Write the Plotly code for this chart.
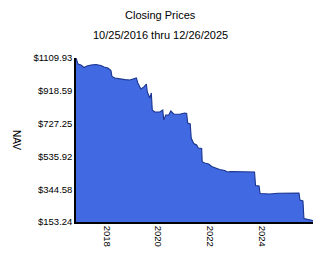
import plotly.graph_objects as go

dates = [
    "2016-10-25", "2016-11-08", "2016-11-22", "2017-01-03", "2017-02-15", "2017-03-29",
    "2017-05-24", "2017-08-03", "2017-10-12", "2017-11-24", "2018-01-19", "2018-03-03",
    "2018-03-17", "2018-04-28", "2018-07-07", "2018-09-16", "2018-11-25", "2019-01-21",
    "2019-02-25", "2019-03-18", "2019-04-30", "2019-06-11", "2019-07-16", "2019-07-30",
    "2019-09-03", "2019-09-24", "2019-10-08", "2019-11-12", "2020-01-22", "2020-03-04",
    "2020-03-18", "2020-04-15", "2020-05-28", "2020-06-25", "2020-08-06", "2020-10-30",
    "2021-01-08", "2021-02-05", "2021-02-19", "2021-03-27", "2021-04-10", "2021-05-15",
    "2021-06-26", "2021-07-18", "2021-09-05", "2021-09-12", "2021-10-17", "2021-12-13",
    "2022-01-24", "2022-03-21", "2022-05-17", "2022-07-26", "2022-09-07", "2022-10-19",
    "2023-02-23", "2023-07-14", "2023-09-22", "2023-10-06", "2023-11-25", "2023-12-09",
    "2024-04-21", "2024-08-12", "2025-01-28", "2025-06-11", "2025-06-25", "2025-08-06",
    "2025-08-20", "2025-11-06", "2025-12-26",
]
nav = [
    1109.93, 1086.6, 1074.9, 1069.0, 1054.5, 1063.0,
    1069.0, 1072.0, 1066.0, 1057.0, 1051.6, 1037.0,
    1002.0, 993.0, 987.0, 984.0, 981.6, 987.0,
    993.0, 964.0, 929.4, 941.0, 958.3, 911.6,
    876.6, 905.8, 806.6, 794.9, 794.9, 806.6,
    748.0, 777.4, 777.4, 800.7, 783.3, 781.5,
    789.0, 786.0, 730.7, 725.0, 643.3, 611.2,
    602.4, 585.0, 582.0, 505.0, 497.4, 491.6,
    477.0, 468.2, 459.5, 453.7, 444.9, 447.8,
    447.8, 447.8, 444.9, 366.2, 363.2, 319.5,
    316.6, 321.2, 322.4, 322.4, 281.6, 275.7,
    173.7, 167.8, 162.0,
]

y_ticks = [153.24, 344.58, 535.92, 727.25, 918.59, 1109.93]
y_labels = ["$153.24", "$344.58", "$535.92", "$727.25", "$918.59", "$1109.93"]
x_ticks = ["2018-01-01", "2020-01-01", "2022-01-01", "2024-01-01"]
x_labels = ["2018", "2020", "2022", "2024"]

title = "Closing Prices"
subtitle = "10/25/2016 thru 12/26/2025"
y_title = "NAV"

tick_font = dict(family="Arial", size=9.5, color="black")

fig = go.Figure()
fig.add_trace(go.Scatter(
    x=dates, y=nav, mode="lines", fill="tozeroy",
    fillcolor="#4169E1", line=dict(color="#1a3490", width=1.1),
    hoverinfo="skip",
))

fig.update_layout(
    width=324, height=267,
    margin=dict(l=76, r=11, t=58, b=45),
    paper_bgcolor="white", plot_bgcolor="white",
    showlegend=False,
    font=dict(family="Arial", size=11, color="black"),
    xaxis=dict(
        range=["2016-10-25", "2025-12-26"], tickvals=x_ticks, ticktext=x_labels,
        tickangle=90, showgrid=False, zeroline=False, showline=True,
        linecolor="black", linewidth=1.5, ticks="", tickfont=tick_font,
    ),
    yaxis=dict(
        range=[153.24, 1109.93], tickvals=y_ticks, ticktext=y_labels,
        showgrid=False, zeroline=False, showline=True,
        linecolor="black", linewidth=1.5, ticks="", tickfont=tick_font,
    ),
    annotations=[
        dict(text=title, x=160, y=15, xref="paper", yref="paper", showarrow=False,
             font=dict(size=11)),
        dict(text=subtitle, x=160, y=35, xref="paper", yref="paper", showarrow=False,
             font=dict(size=11)),
        dict(text=y_title, x=17, y=140, xref="paper", yref="paper", showarrow=False,
             textangle=90, font=dict(size=10)),
    ],
)

# convert pixel-placed annotations to paper coordinates
pw = 324 - 76 - 11
ph = 267 - 58 - 45
for a in fig.layout.annotations:
    px, py = a.x, a.y
    a.x = (px - 76) / pw
    a.y = 1 - (py - 58) / ph
    a.xanchor = "center"
    a.yanchor = "middle"

fig.write_html("out.html")
